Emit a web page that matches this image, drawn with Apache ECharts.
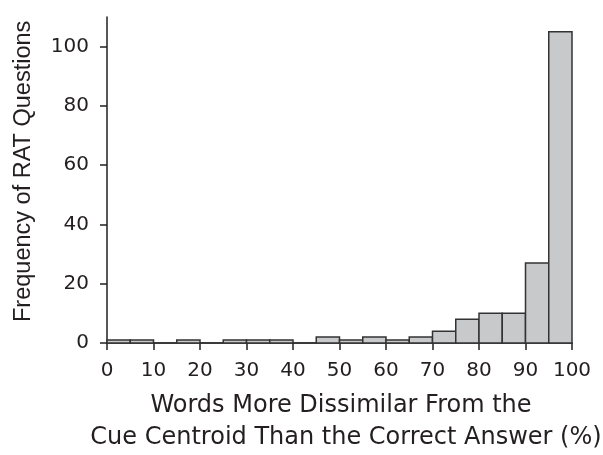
<!DOCTYPE html>
<html>
  <head>
    <meta charset="utf-8">
    <script src="https://cdn.jsdelivr.net/npm/echarts@6/dist/echarts.min.js"></script>
    <style>
      html, body { margin: 0; padding: 0; background: #fff; }
      #chart { width: 603px; height: 455px; }
    </style>
  </head>
  <body>
    <div id="chart"></div>
    <script>
      // histogram bins, 5% wide
      const binStarts = [0, 5, 10, 15, 20, 25, 30, 35, 40, 45, 50, 55, 60, 65, 70, 75, 80, 85, 90, 95];
      const binWidth = 5;
      const counts = [1, 1, 0, 1, 0, 1, 1, 1, 0, 2, 1, 2, 1, 2, 4, 8, 10, 10, 27, 105];
      const yTicks = [0, 20, 40, 60, 80, 100];
      const xTitle = ['Words More Dissimilar From the', 'Cue Centroid Than the Correct Answer (%)'];
      const yTitle = 'Frequency of RAT Questions';

      const ink = '#231f20';
      const chart = echarts.init(document.getElementById('chart'));

      const data = binStarts.map((s, i) => [s, s + binWidth, counts[i]]);

      chart.setOption({
        animation: false,
        grid: { left: 107, right: 31, top: 17, bottom: 112 },
        xAxis: {
          type: 'value',
          min: 0, max: 100, interval: 10,
          splitLine: { show: false },
          axisLine: { lineStyle: { color: ink, width: 1.5 } },
          axisTick: { length: 7, lineStyle: { color: ink, width: 1.5 } },
          axisLabel: { color: ink, fontFamily: 'DejaVu Sans', fontSize: 20, margin: 18 }
        },
        yAxis: {
          type: 'value',
          min: 0, max: 110,
          splitLine: { show: false },
          axisLine: { show: true, lineStyle: { color: ink, width: 1.5 } },
          axisTick: { show: true, length: 7, customValues: yTicks, lineStyle: { color: ink, width: 1.5 } },
          axisLabel: { color: ink, fontFamily: 'DejaVu Sans', fontSize: 20, margin: 18, customValues: yTicks }
        },
        graphic: [
          {
            type: 'text', x: 341, y: 394,
            style: { text: xTitle[0], font: '24px "DejaVu Sans"', fill: ink, textAlign: 'center' }
          },
          {
            type: 'text', x: 346, y: 426,
            style: { text: xTitle[1], font: '24px "DejaVu Sans"', fill: ink, textAlign: 'center' }
          },
          {
            type: 'text', x: 12, y: 322, rotation: Math.PI / 2,
            style: { text: yTitle, font: '23.5px "Liberation Sans"', fill: ink, textVerticalAlign: 'top' }
          }
        ],
        series: [{
          type: 'custom',
          data: data,
          encode: { x: [0, 1], y: 2 },
          renderItem: function (params, api) {
            const p0 = api.coord([api.value(0), 0]);
            const p1 = api.coord([api.value(1), api.value(2)]);
            return {
              type: 'rect',
              shape: { x: p0[0], y: p1[1], width: p1[0] - p0[0], height: p0[1] - p1[1] },
              style: { fill: '#c8c9cb', stroke: '#333333', lineWidth: 1.5 }
            };
          }
        }]
      });
    </script>
  </body>
</html>
